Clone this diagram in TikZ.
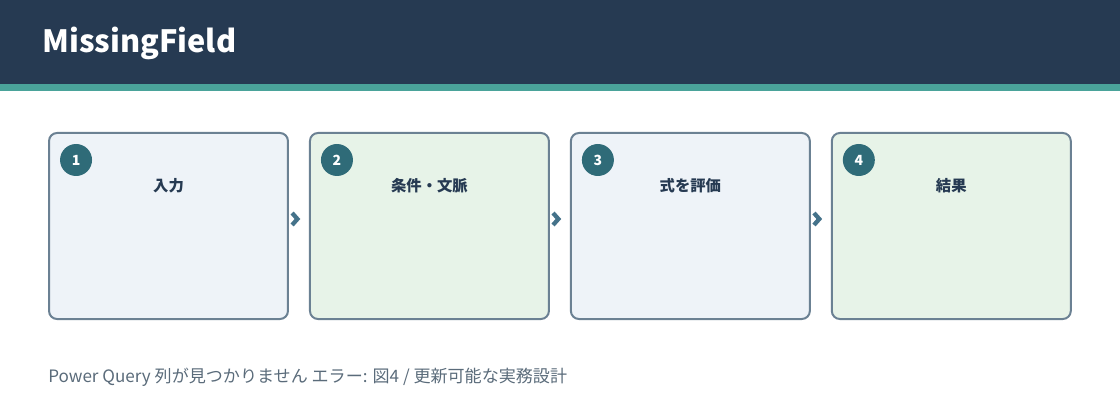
\documentclass[tikz,border=0pt]{standalone}
\usepackage{fontspec}
\setmainfont{Noto Sans CJK JP}
\usepackage{xcolor}
\usetikzlibrary{positioning}
\usetikzlibrary{arrows.meta}
\definecolor{headnavy}{HTML}{263A52}
\definecolor{headteal}{HTML}{4AA39A}
\definecolor{boxline}{HTML}{6B8193}
\definecolor{bluebg}{HTML}{EEF3F8}
\definecolor{greenbg}{HTML}{E7F3E8}
\definecolor{badge}{HTML}{2F6B78}
\definecolor{chevron}{HTML}{44728A}
\definecolor{notegray}{HTML}{5A6B7A}

\begin{document}
\begin{tikzpicture}[x=0.75pt,y=-0.75pt,node distance=15pt,
  stepbox/.style={draw=boxline,line width=1.5pt,rounded corners=6pt,minimum width=179.2pt,minimum height=139.5pt,inner sep=0pt},
  steplabel/.style={text=headnavy,font=\bfseries\fontsize{11.5}{13}\selectfont,inner sep=0pt},
  numbadge/.style={circle,fill=badge,text=white,minimum size=24pt,inner sep=0pt,font=\bfseries\fontsize{10.5}{12}\selectfont},
  flow/.style={-{Straight Barb[length=4pt,width=9pt]},line width=3.2pt,draw=chevron,shorten <=6pt,shorten >=6.5pt}]
\useasboundingbox (0,0) rectangle (1120,420);
% header
\fill[headnavy] (0,0) rectangle (1120,84);
\fill[headteal] (0,84) rectangle (1120,91);
\node[anchor=west,inner sep=0pt,text=white,font=\bfseries\fontsize{23}{28}\selectfont] (title) at (42,43) {MissingField};
% steps
\node[stepbox,fill=bluebg] (s1) at (168.5,226) {};
\node[stepbox,fill=greenbg,right=of s1] (s2) {};
\node[stepbox,fill=bluebg,right=of s2] (s3) {};
\node[stepbox,fill=greenbg,right=of s3] (s4) {};
\foreach \i/\txt in {1/入力,2/条件・文脈,3/式を評価,4/結果}{
  \node[numbadge] (n\i) at ([xshift=21pt,yshift=-21pt]s\i.north west) {\i};
  \node[steplabel] (t\i) at ([yshift=-40pt]s\i.north) {\txt};
}
\draw[flow] ([yshift=5.25pt]s1.east) -- ([yshift=5.25pt]s2.west);
\draw[flow] ([yshift=5.25pt]s2.east) -- ([yshift=5.25pt]s3.west);
\draw[flow] ([yshift=5.25pt]s3.east) -- ([yshift=5.25pt]s4.west);
% footnote
\node[anchor=west,inner sep=0pt,text=notegray,font=\fontsize{12.8}{15}\selectfont] (note) at (48,377) {Power Query 列が見つかりません エラー: 図4 / 更新可能な実務設計};
\end{tikzpicture}
\end{document}
